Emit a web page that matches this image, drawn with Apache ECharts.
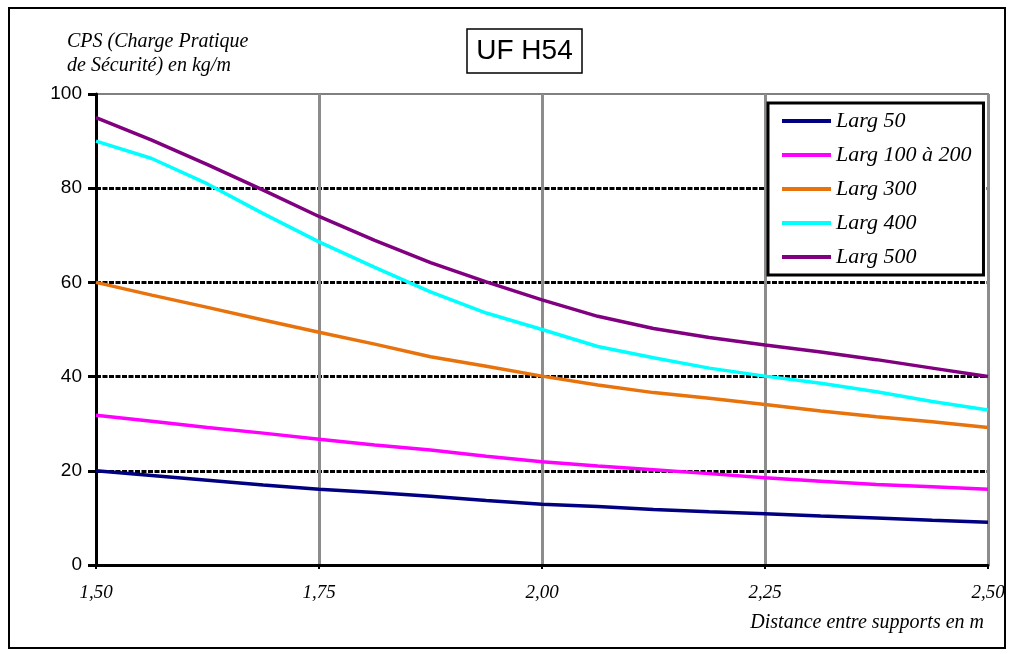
<!DOCTYPE html>
<html>
<head>
<meta charset="utf-8">
<script src="https://cdn.jsdelivr.net/npm/echarts@6/dist/echarts.min.js"></script>
<style>html,body{margin:0;padding:0;background:#fff;}#c{width:1014px;height:654px;}</style>
</head>
<body>
<div id="c"></div>
<script>
// Distance between supports (m)
const distances = [1.5, 1.5625, 1.625, 1.6875, 1.75, 1.8125, 1.875, 1.9375, 2.0, 2.0625, 2.125, 2.1875, 2.25, 2.3125, 2.375, 2.4375, 2.5];
const seriesNames = ['Larg 50', 'Larg 100 à 200', 'Larg 300', 'Larg 400', 'Larg 500'];
const larg50   = [20, 19.0, 18.0, 17.0, 16.1, 15.4, 14.6, 13.7, 12.9, 12.4, 11.8, 11.3, 10.9, 10.4, 10.0, 9.5, 9.1];
const larg100  = [31.8, 30.5, 29.2, 28.0, 26.7, 25.5, 24.4, 23.1, 21.9, 21.0, 20.2, 19.4, 18.5, 17.8, 17.1, 16.6, 16.1];
const larg300  = [60, 57.3, 54.7, 52.0, 49.4, 46.9, 44.2, 42.2, 40.1, 38.2, 36.6, 35.4, 34.1, 32.7, 31.5, 30.4, 29.2];
const larg400  = [90, 86.3, 80.9, 74.6, 68.6, 63.2, 58.0, 53.5, 50.0, 46.4, 44.0, 41.8, 40.1, 38.6, 36.8, 34.7, 32.9];
const larg500  = [95, 90.2, 85, 79.6, 74, 68.9, 64.2, 60.1, 56.3, 52.8, 50.2, 48.3, 46.7, 45.2, 43.6, 41.8, 40];
const seriesValues = [larg50, larg100, larg300, larg400, larg500];
const colors = ['#000080', '#FF00FF', '#E8720C', '#00FFFF', '#800080'];
const chartTitle = 'UF H54';
const yAxisTitle = 'CPS (Charge Pratique\nde Sécurité) en kg/m';
const xAxisTitle = 'Distance entre supports en m';

const chart = echarts.init(document.getElementById('c'));
const serif = '"Liberation Serif", "DejaVu Serif", serif';
const sans = '"Liberation Sans", Arial, sans-serif';

chart.setOption({
  animation: false,
  backgroundColor: '#fff',
  grid: { left: 96, right: 26, top: 94, bottom: 89, show: true, borderColor: '#808080', borderWidth: 2, backgroundColor: 'transparent' },
  xAxis: {
    type: 'value', min: 1.5, max: 2.5, interval: 0.25,
    axisLine: { show: true, onZero: false, lineStyle: { color: '#000', width: 3 } },
    axisTick: { show: true, inside: false, length: 4, lineStyle: { color: '#000', width: 2 } },
    axisLabel: { color: '#000', fontFamily: serif, fontStyle: 'italic', fontSize: 19, margin: 18,
      formatter: v => v.toFixed(2).replace('.', ',') },
    splitLine: { show: true, lineStyle: { color: ['transparent', '#8c8c8c', '#8c8c8c', '#8c8c8c', '#8c8c8c'], width: 3 } }
  },
  yAxis: {
    type: 'value', min: 0, max: 100, interval: 20,
    axisLine: { show: true, lineStyle: { color: '#000', width: 3 } },
    axisTick: { show: true, inside: false, length: 8, lineStyle: { color: '#000', width: 3 } },
    axisLabel: { color: '#000', fontFamily: sans, fontSize: 19, margin: 14 },
    splitLine: { show: true, lineStyle: { color: ['transparent', '#000', '#000', '#000', '#000', 'transparent'], width: 3, type: [5, 1.5] } }
  },
  legend: {
    orient: 'vertical', left: 768, top: 103,
    data: seriesNames,
    icon: 'rect', itemWidth: 49, itemHeight: 4, itemGap: 12,
    padding: [7, 12, 7, 14],
    borderColor: '#000', borderWidth: 3, backgroundColor: '#fff',
    textStyle: { color: '#000', fontFamily: serif, fontStyle: 'italic', fontSize: 22, padding: [0, 0, 0, 0] }
  },
  graphic: [
    { type: 'rect', shape: { x: 9, y: 8, width: 996, height: 640 }, style: { fill: 'none', stroke: '#000', lineWidth: 2 }, z: 100 },
    { type: 'rect', shape: { x: 467, y: 29, width: 115, height: 44 }, style: { fill: '#fff', stroke: '#000', lineWidth: 1.5 }, z: 100 },
    { type: 'text', x: 524.5, y: 51, style: { text: chartTitle, font: '28px ' + sans, fill: '#000', align: 'center', verticalAlign: 'middle' }, z: 101 },
    { type: 'text', x: 67, y: 30, style: { text: yAxisTitle, font: 'italic 20px ' + serif, lineHeight: 24, fill: '#000', align: 'left', verticalAlign: 'top' }, z: 101 },
    { type: 'text', x: 984, y: 623, style: { text: xAxisTitle, font: 'italic 20px ' + serif, fill: '#000', align: 'right', verticalAlign: 'middle' }, z: 101 }
  ],
  series: seriesNames.map((name, i) => ({
    name: name, type: 'line', showSymbol: false, symbol: 'none',
    data: distances.map((d, j) => [d, seriesValues[i][j]]),
    lineStyle: { color: colors[i], width: 3.5 },
    itemStyle: { color: colors[i] },
    z: 3
  }))
});
</script>
</body>
</html>
